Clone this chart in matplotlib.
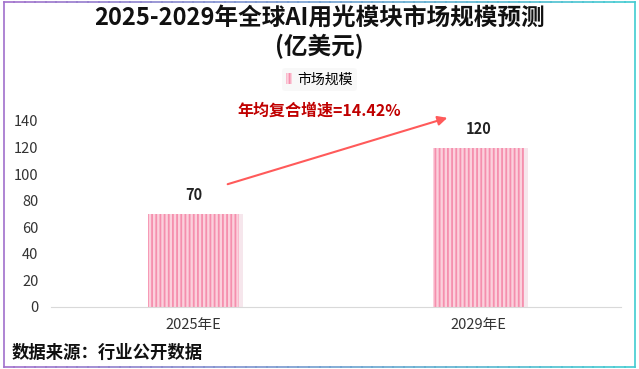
import matplotlib.pyplot as plt
import numpy as np
from matplotlib.patches import Patch

plt.rcParams['font.family'] = ['Noto Sans CJK SC', 'DejaVu Sans']
plt.rcParams['hatch.linewidth'] = 1.3

# données
categories = ["2025年E", "2029年E"]
values = [70, 120]
value_labels = ["70", "120"]
cagr_text = "年均复合增速=14.42%"

fig = plt.figure(figsize=(6.39, 3.69), dpi=100)
ax = fig.add_axes([51 / 639, 62 / 369, 570 / 639, 186 / 369])

x = np.arange(len(categories))
# ombre légère à droite des barres
ax.bar(x + 0.012, values, width=0.32, color='#f6e6ec', edgecolor='none', zorder=1)
ax.bar(x, values, width=0.32, color='#fbd0dc', hatch='||||', edgecolor='#f58fae', linewidth=0, zorder=2)
for xi, v, lab in zip(x, values, value_labels):
    ax.text(xi, v + 8, lab, ha='center', va='bottom', fontsize=10.5, fontweight='bold', color='#222222')

ax.set_xlim(-0.5, 1.5)
ax.set_ylim(0, 140)
ax.set_yticks(np.arange(0, 141, 20))
ax.set_xticks(x)
ax.set_xticklabels(categories)
ax.tick_params(axis='both', length=0, labelsize=10.5, colors='#333333')
ax.tick_params(axis='y', pad=9)
ax.tick_params(axis='x', pad=8)
for s in ['top', 'right', 'left']:
    ax.spines[s].set_visible(False)
ax.spines['bottom'].set_color('#d9d9d9')

# titre
fig.text(0.5, 0.952, "2025-2029年全球AI用光模块市场规模预测", ha='center', va='center',
         fontsize=17, fontweight='bold', color='#111111')
fig.text(0.5, 0.875, "(亿美元)", ha='center', va='center', fontsize=17, fontweight='bold', color='#111111')

# légende
leg = fig.legend(handles=[Patch(facecolor='#fbd0dc', hatch='||||', edgecolor='#f58fae', linewidth=0)],
                 labels=["市场规模"], loc='center', bbox_to_anchor=(0.5, 0.785), frameon=True, fontsize=10,
                 handlelength=0.4, handleheight=0.9, handletextpad=0.4, borderpad=0.3)
leg.get_frame().set_facecolor('#f7f7f7')
leg.get_frame().set_edgecolor('none')

# flèche TCAC
fig.text(237 / 639, 1 - 111 / 369, cagr_text, ha='left', va='center', fontsize=11.5,
         fontweight='bold', color='#c00000')
fig.add_artist(plt.matplotlib.patches.FancyArrowPatch(
    (225 / 639, 1 - 185 / 369), (450 / 639, 1 - 117 / 369), transform=fig.transFigure,
    arrowstyle='-|>', mutation_scale=14, color='#ff5a5a', lw=1.5))

# source
fig.text(12 / 639, 1 - 353 / 369, "数据来源：行业公开数据", ha='left', va='center',
         fontsize=12.5, fontweight='bold', color='#111111')

# bordure en dégradé
n = 60
c0 = np.array([0.63, 0.44, 0.80])
c1 = np.array([0.25, 0.80, 0.82])
xs = np.linspace(0.006, 0.994, n + 1)
for i in range(n):
    t = i / n
    col = c0 * (1 - t) + c1 * t
    for yy in (0.006, 0.994):
        fig.add_artist(plt.Line2D([xs[i], xs[i + 1]], [yy, yy], color=col, lw=1.2, transform=fig.transFigure))
fig.add_artist(plt.Line2D([0.006, 0.006], [0.006, 0.994], color=c0, lw=1.2, transform=fig.transFigure))
fig.add_artist(plt.Line2D([0.994, 0.994], [0.006, 0.994], color=c1, lw=1.2, transform=fig.transFigure))

fig.savefig("out.png", dpi=100)
